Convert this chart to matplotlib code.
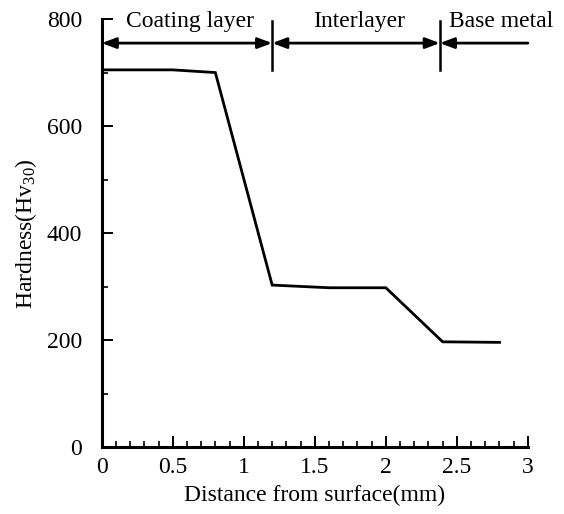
import matplotlib
matplotlib.use('Agg')
import matplotlib.pyplot as plt
from matplotlib.ticker import MultipleLocator, FixedLocator

plt.rcParams['font.family'] = ['Liberation Serif', 'DejaVu Serif']
plt.rcParams['mathtext.fontset'] = 'custom'
plt.rcParams['mathtext.rm'] = 'Liberation Serif'
plt.rcParams['mathtext.it'] = 'Liberation Serif:italic'

# hardness profile
distance = [0, 0.5, 0.8, 1.2, 1.6, 2.0, 2.4, 2.8]
hardness = [705, 705, 700, 303, 298, 298, 197, 196]

# layer zones
zone_edges = [0, 1.2, 2.38, 3.0]
zone_names = ['Coating layer', 'Interlayer', 'Base metal']
zone_label_x = [0.62, 1.81, 2.81]

x_ticks = [0, 0.5, 1, 1.5, 2, 2.5, 3]
x_tick_labels = ['0', '0.5', '1', '1.5', '2', '2.5', '3']
y_ticks = [0, 200, 400, 600, 800]

fs = 17

fig = plt.figure(figsize=(5.64, 5.14), dpi=100)
ax = fig.add_axes([0.1803, 0.1298, 0.7557, 0.8332])

ax.plot(distance, hardness, color='black', lw=2.0, solid_joinstyle='miter')

ax.set_xlim(0, 3)
ax.set_ylim(0, 800)

for s in ['top', 'right']:
    ax.spines[s].set_visible(False)
for s in ['left', 'bottom']:
    ax.spines[s].set_linewidth(2.2)

ax.xaxis.set_major_locator(FixedLocator(x_ticks))
ax.set_xticklabels(x_tick_labels)
ax.xaxis.set_minor_locator(MultipleLocator(0.1))
ax.yaxis.set_major_locator(FixedLocator(y_ticks))
ax.yaxis.set_minor_locator(MultipleLocator(100))
ax.tick_params(which='major', direction='in', length=8, width=1.4, labelsize=fs)
ax.tick_params(which='minor', direction='in', length=4, width=1.2)
ax.tick_params(axis='x', which='major', pad=7)
ax.tick_params(axis='y', which='major', pad=14)

ax.set_xlabel('Distance from surface(mm)', fontsize=fs, labelpad=5)
ax.set_ylabel(r'Hardness(Hv$_{\mathrm{30}}$)', fontsize=fs, labelpad=6)

# zone arrows and dividers
arrow_y = 755
for i in range(len(zone_names)):
    style = '<|-|>' if i < len(zone_names) - 1 else '<|-'
    ax.annotate('', xy=(zone_edges[i + 1], arrow_y), xytext=(zone_edges[i], arrow_y),
                arrowprops=dict(arrowstyle=style + ',head_length=0.85,head_width=0.32',
                                color='black', lw=2.0, shrinkA=0, shrinkB=0),
                annotation_clip=False)
    ax.text(zone_label_x[i], 795, zone_names[i], fontsize=fs, ha='center', va='center',
            clip_on=False)

for xb in zone_edges[1:-1]:
    ax.plot([xb, xb], [705, 797], color='black', lw=1.8, clip_on=False)

fig.savefig('out.png', dpi=100)
